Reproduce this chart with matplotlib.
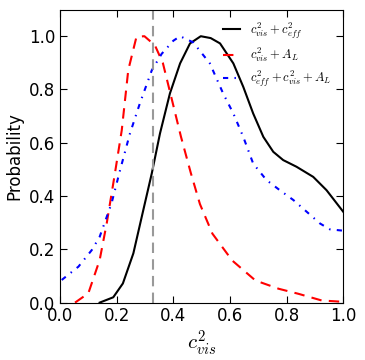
import matplotlib
matplotlib.use("Agg")
import matplotlib.pyplot as plt

plt.rcParams['mathtext.fontset'] = 'cm'

# black: c_vis^2 + c_eff^2
x_black = [0.14, 0.188, 0.222, 0.259, 0.294, 0.324, 0.353, 0.388, 0.424, 0.459,
           0.497, 0.532, 0.565, 0.612, 0.647, 0.682, 0.718, 0.753, 0.788,
           0.835, 0.894, 0.941, 1.0]
y_black = [0.0, 0.02, 0.072, 0.185, 0.347, 0.485, 0.635, 0.785, 0.898, 0.973,
           1.0, 0.993, 0.973, 0.898, 0.81, 0.71, 0.622, 0.566, 0.535,
           0.51, 0.472, 0.422, 0.341]

# red: c_vis^2 + A_L
x_red = [0.053, 0.1, 0.14, 0.165, 0.194, 0.218, 0.241, 0.27, 0.298, 0.335,
         0.363, 0.392, 0.427, 0.462, 0.494, 0.538, 0.608, 0.69, 0.772,
         0.842, 0.924, 1.0]
y_red = [0.0, 0.035, 0.16, 0.298, 0.486, 0.647, 0.873, 0.998, 1.0, 0.966,
         0.9, 0.775, 0.623, 0.486, 0.37, 0.259, 0.158, 0.083, 0.052,
         0.033, 0.008, 0.003]

# blue: c_eff^2 + c_vis^2 + A_L
x_blue = [0.006, 0.065, 0.112, 0.14, 0.182, 0.212, 0.247, 0.282, 0.324, 0.359,
          0.4, 0.424, 0.47, 0.529, 0.576, 0.612, 0.647, 0.682, 0.729,
          0.776, 0.824, 0.871, 0.918, 0.953, 1.0]
y_blue = [0.085, 0.135, 0.197, 0.247, 0.373, 0.497, 0.635, 0.748, 0.872, 0.934,
          0.983, 1.0, 0.977, 0.898, 0.785, 0.71, 0.622, 0.522, 0.46,
          0.422, 0.385, 0.341, 0.297, 0.275, 0.27]

x_ref = 0.33

fig = plt.figure(figsize=(3.65, 3.6), dpi=100)
ax = fig.add_axes([0.1644, 0.1594, 0.776, 0.814])

ax.plot(x_black, y_black, color='black', lw=1.5, ls='-',
        label=r'$c^2_{vis}+c^2_{eff}$')
ax.plot(x_red, y_red, color='red', lw=1.5, ls=(0, (5, 3.5)),
        label=r'$c^2_{vis}+A_L$')
ax.plot(x_blue, y_blue, color='blue', lw=1.5, ls=(0, (2.5, 3, 0.7, 3)),
        label=r'$c^2_{eff}+c^2_{vis}+A_L$')
ax.axvline(x_ref, color='#999999', ls=(0, (5, 3)), lw=1.5)

ax.set_xlim(0, 1)
ax.set_ylim(0, 1.1)
ax.set_xticks([0.0, 0.2, 0.4, 0.6, 0.8, 1.0])
ax.set_yticks([0.0, 0.2, 0.4, 0.6, 0.8, 1.0])
ax.tick_params(direction='in', top=True, right=True, labelsize=12, length=5)
ax.set_xlabel(r'$c^2_{vis}$', fontsize=15, labelpad=2)
ax.set_ylabel('Probability', fontsize=12)
ax.legend(loc='upper right', frameon=False, fontsize=9, handlelength=1.4,
          labelspacing=0.4, borderaxespad=0.5)

fig.savefig('out.png', dpi=100)
